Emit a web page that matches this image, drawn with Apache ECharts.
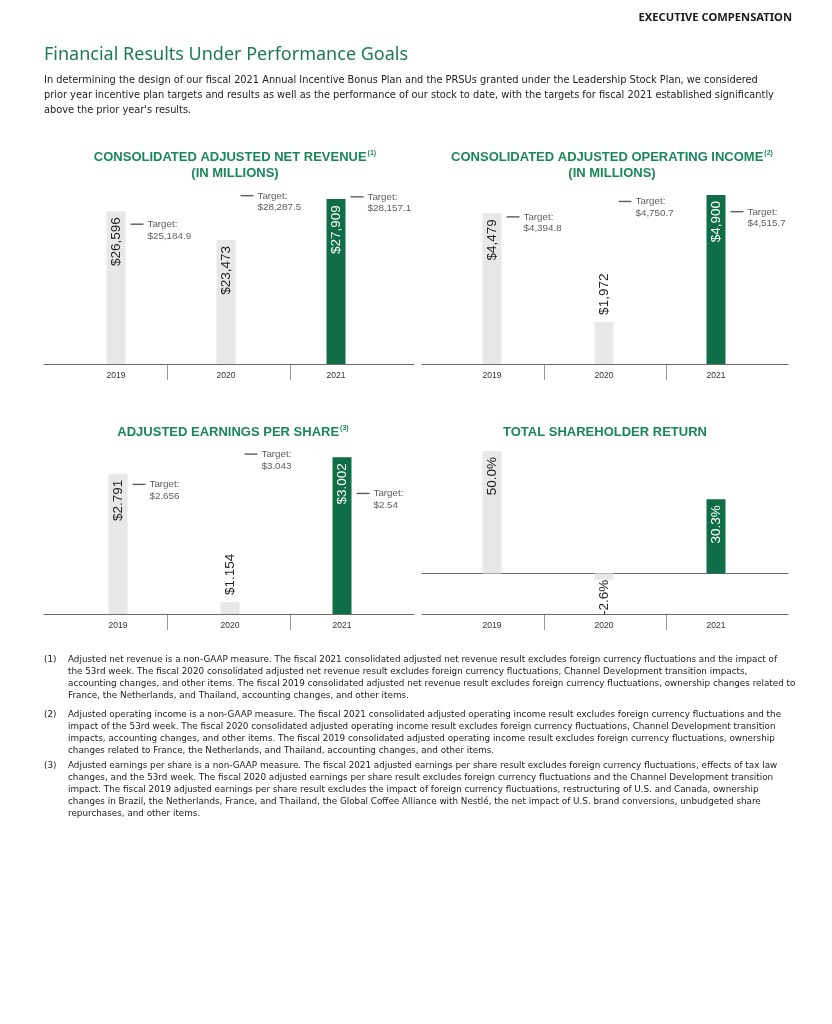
<!DOCTYPE html>
<html><head><meta charset="utf-8">
<script src="https://cdn.jsdelivr.net/npm/echarts@6/dist/echarts.min.js"></script>
<style>html,body{margin:0;padding:0;background:#fff;}#c{width:832px;height:1024px;}</style>
</head><body><div id="c"></div>
<script>
// ---- data ----
const years = ['2019', '2020', '2021'];
const revenueValues = [26596, 23473, 27909];
const revenueTargets = [25184.9, 28287.5, 28157.1];
const opIncomeValues = [4479, 1972, 4900];
const opIncomeTargets = [4394.8, 4750.7, 4515.7];
const epsValues = [2.791, 1.154, 3.002];
const epsTargets = [2.656, 3.043, 2.54];
const tsrValues = [50.0, -2.6, 30.3];

const chartTitles = [
  ['CONSOLIDATED ADJUSTED NET REVENUE', '(1)', '(IN MILLIONS)'],
  ['CONSOLIDATED ADJUSTED OPERATING INCOME', '(2)', '(IN MILLIONS)'],
  ['ADJUSTED EARNINGS PER SHARE', '(3)', ''],
  ['TOTAL SHAREHOLDER RETURN', '', '']
];

const introLines = [
  'In determining the design of our fiscal 2021 Annual Incentive Bonus Plan and the PRSUs granted under the Leadership Stock Plan, we considered',
  'prior year incentive plan targets and results as well as the performance of our stock to date, with the targets for fiscal 2021 established significantly',
  "above the prior year's results."
];
const footnotes = [
  ['Adjusted net revenue is a non-GAAP measure. The fiscal 2021 consolidated adjusted net revenue result excludes foreign currency fluctuations and the impact of',
   'the 53rd week. The fiscal 2020 consolidated adjusted net revenue result excludes foreign currency fluctuations, Channel Development transition impacts,',
   'accounting changes, and other items. The fiscal 2019 consolidated adjusted net revenue result excludes foreign currency fluctuations, ownership changes related to',
   'France, the Netherlands, and Thailand, accounting changes, and other items.'],
  ['Adjusted operating income is a non-GAAP measure. The fiscal 2021 consolidated adjusted operating income result excludes foreign currency fluctuations and the',
   'impact of the 53rd week. The fiscal 2020 consolidated adjusted operating income result excludes foreign currency fluctuations, Channel Development transition',
   'impacts, accounting changes, and other items. The fiscal 2019 consolidated adjusted operating income result excludes foreign currency fluctuations, ownership',
   'changes related to France, the Netherlands, and Thailand, accounting changes, and other items.'],
  ['Adjusted earnings per share is a non-GAAP measure. The fiscal 2021 adjusted earnings per share result excludes foreign currency fluctuations, effects of tax law',
   'changes, and the 53rd week. The fiscal 2020 adjusted earnings per share result excludes foreign currency fluctuations and the Channel Development transition',
   'impact. The fiscal 2019 adjusted earnings per share result excludes the impact of foreign currency fluctuations, restructuring of U.S. and Canada, ownership',
   'changes in Brazil, the Netherlands, France, and Thailand, the Global Coffee Alliance with Nestlé, the net impact of U.S. brand conversions, unbudgeted share',
   'repurchases, and other items.']
];

// ---- styling / layout ----
const GREEN = '#0f6e47';
const GRAY = '#e8e8e8';
const TITLE_GREEN = '#1a8758';
const FONT = '"Liberation Sans", Arial, sans-serif';
const BODY_FONT = '"DejaVu Sans", sans-serif';

const money0 = v => '$' + v.toLocaleString('en-US');
const money1 = v => '$' + v.toLocaleString('en-US', {minimumFractionDigits: 1, maximumFractionDigits: 1});
const moneyRaw = v => '$' + String(v);
const pct = v => v.toFixed(1) + '%';

const panels = [
  {values: revenueValues, targets: revenueTargets, fmt: money0, tfmt: money1, min: 10000, max: 28900,
   main: {left: 61, width: 330, top: 190, height: 174}, deco: {left: 44, width: 370}, title: {x: 235, y: 150}},
  {values: opIncomeValues, targets: opIncomeTargets, fmt: money0, tfmt: money1, min: 1000, max: 5015,
   main: {left: 436, width: 336, top: 190, height: 174}, deco: {left: 422, width: 366}, title: {x: 612, y: 150}},
  {values: epsValues, targets: epsTargets, fmt: moneyRaw, tfmt: moneyRaw, min: 1.0, max: 3.223,
   main: {left: 62, width: 336, top: 440, height: 174}, deco: {left: 44, width: 370}, title: {x: 233, y: 425}},
  {values: tsrValues, targets: null, fmt: pct, tfmt: null, min: -16.6, max: 54.5,
   main: {left: 436, width: 336, top: 440, height: 174}, deco: {left: 422, width: 366}, title: {x: 605, y: 425}, zeroLine: true}
];

const grid = [], xAxis = [], yAxis = [], series = [];
const graphic = [];

panels.forEach((p, pi) => {
  // main grid
  const gi = grid.length;
  grid.push({left: p.main.left, width: p.main.width, top: p.main.top, height: p.main.height});
  xAxis.push({type: 'category', gridIndex: gi, data: years,
    axisLine: {show: false, onZero: false}, axisTick: {show: false},
    axisLabel: {fontSize: 8.5, color: '#333', fontFamily: FONT, margin: 7}});
  yAxis.push({type: 'value', gridIndex: gi, min: p.min, max: p.max, show: false});
  const last = p.values.length - 1;
  const range = p.max - p.min;
  series.push({
    type: 'bar', xAxisIndex: gi, yAxisIndex: gi, barWidth: 19, z: 3,
    data: p.values.map((v, i) => {
      const hl = i === last;
      const small = Math.abs(v - Math.max(p.min, 0)) / range < 0.25 || v < 0;
      const lab = {
        show: true, rotate: 90, fontSize: 13.5, fontFamily: FONT,
        color: hl ? '#fff' : '#222', verticalAlign: 'middle',
        formatter: () => p.fmt(v)
      };
      if (small) {
        lab.position = 'outside'; lab.distance = v < 0 ? 0 : 7; lab.align = v < 0 ? 'right' : 'left';
        lab.color = '#222';
      } else {
        lab.position = 'insideTop'; lab.distance = 6; lab.align = 'right';
      }
      return {value: v, itemStyle: {color: hl ? GREEN : GRAY}, label: lab};
    })
  });
  if (p.targets) {
    series.push({
      type: 'scatter', xAxisIndex: gi, yAxisIndex: gi, z: 4, clip: false,
      symbol: 'rect', symbolSize: [13, 1.4], symbolOffset: [21, 0],
      itemStyle: {color: '#333'},
      label: {show: true, position: 'right', distance: 4, offset: [0, 6],
        fontSize: 9.8, lineHeight: 11.5, color: '#333', fontFamily: FONT, align: 'left',
        formatter: prm => 'Target:\n' + p.tfmt(prm.value)},
      data: p.targets
    });
  }
  // decorative base line with separators
  const di = grid.length;
  grid.push({left: p.deco.left, width: p.deco.width, top: p.main.top + p.main.height, height: 16});
  xAxis.push({type: 'category', gridIndex: di, data: years, position: 'top',
    axisLine: {show: true, onZero: false, lineStyle: {color: '#6a6a6a', width: 1}},
    axisTick: {show: false}, axisLabel: {show: false},
    splitLine: {show: true, interval: 0, showMinLine: false, showMaxLine: false, lineStyle: {color: '#9a9a9a', width: 1}}});
  yAxis.push({type: 'value', gridIndex: di, min: 0, max: 1, show: false});
  // zero line spanning full width
  if (p.zeroLine) {
    const zi = grid.length;
    grid.push({left: p.deco.left, width: p.deco.width, top: p.main.top, height: p.main.height});
    xAxis.push({type: 'category', gridIndex: zi, data: years, position: 'bottom',
      axisLine: {show: true, onZero: true, lineStyle: {color: '#6a6a6a', width: 1}},
      axisTick: {show: false}, axisLabel: {show: false}, splitLine: {show: false}});
    yAxis.push({type: 'value', gridIndex: zi, min: p.min, max: p.max, show: false});
  }
  // chart title
  const t = chartTitles[pi];
  let txt = '{t|' + t[0] + '}' + (t[1] ? '{s|' + t[1] + '}' : '');
  if (t[2]) txt += '\n{t|' + t[2] + '}';
  graphic.push({type: 'text', x: p.title.x, y: p.title.y, z: 10,
    style: {text: txt, align: 'center', verticalAlign: 'top',
      rich: {
        t: {fontSize: 13, fontWeight: 'bold', fontFamily: FONT, fill: TITLE_GREEN, lineHeight: 15.5},
        s: {fontSize: 7, fontWeight: 'bold', fontFamily: FONT, fill: TITLE_GREEN, lineHeight: 15.5, verticalAlign: 'top', padding: [0, 0, 6, 1]}
      }}});
});

// page texts
graphic.push({type: 'text', x: 792, y: 12, style: {text: 'EXECUTIVE COMPENSATION', align: 'right', verticalAlign: 'top',
  fontSize: 11.2, fontWeight: 'bold', fontFamily: '"Noto Sans", sans-serif', fill: '#1a1a1a'}});
graphic.push({type: 'text', x: 44, y: 46, style: {text: 'Financial Results Under Performance Goals', align: 'left', verticalAlign: 'top',
  fontSize: 18, fontFamily: '"Noto Sans", sans-serif', fill: '#1d7a52'}});
graphic.push({type: 'text', x: 44, y: 73, style: {text: introLines.join('\n'), align: 'left', verticalAlign: 'top',
  fontSize: 9.8, lineHeight: 15, fontFamily: BODY_FONT, fill: '#222'}});

const fnTops = [654, 709, 760];
footnotes.forEach((lines, i) => {
  graphic.push({type: 'text', x: 44, y: fnTops[i], style: {text: '(' + (i + 1) + ')', align: 'left', verticalAlign: 'top',
    fontSize: 8.8, lineHeight: 12, fontFamily: BODY_FONT, fill: '#222'}});
  graphic.push({type: 'text', x: 68, y: fnTops[i], style: {text: lines.join('\n'), align: 'left', verticalAlign: 'top',
    fontSize: 8.8, lineHeight: 12, fontFamily: BODY_FONT, fill: '#222'}});
});

const chart = echarts.init(document.getElementById('c'), null, {renderer: 'canvas'});
chart.setOption({
  animation: false,
  backgroundColor: '#fff',
  grid, xAxis, yAxis, series, graphic
});
</script>
</body></html>
